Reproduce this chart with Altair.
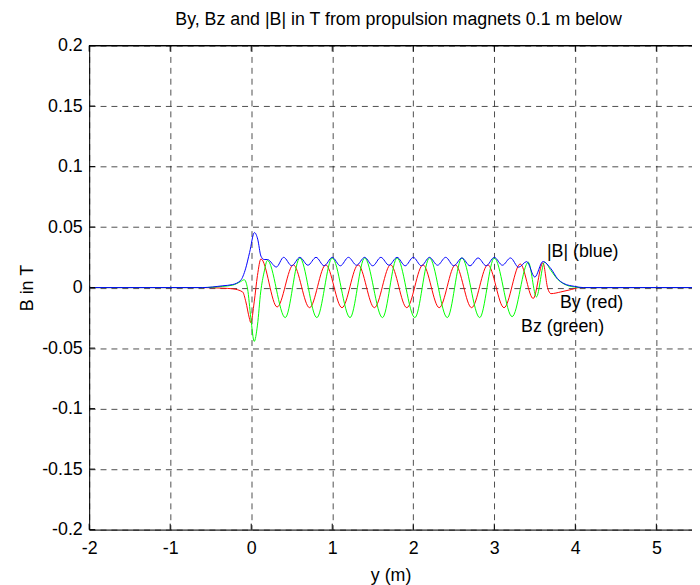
import altair as alt
import pandas as pd

# ---- data ----
blue_x = [-2.0, -0.6, -0.35, -0.23, -0.13, -0.07, -0.02, 0.04, 0.08, 0.12, 0.16, 0.2, 0.31, 0.4, 0.5, 0.6, 0.7,
          0.8, 0.9, 1.0, 1.1, 1.2, 1.3, 1.4, 1.5, 1.6, 1.7, 1.8, 1.9, 2.0, 2.1, 2.2, 2.3, 2.4, 2.5, 2.6, 2.7,
          2.8, 2.9, 3.0, 3.1, 3.2, 3.3, 3.4, 3.5, 3.6, 3.7, 3.78, 3.86, 3.99, 4.1, 5.5]
blue_y = [0.0, 0.0, 0.0015, 0.0025, 0.006, 0.0155, 0.029, 0.0455, 0.040, 0.026, 0.0232, 0.0232, 0.017, 0.025,
          0.018, 0.025, 0.0185, 0.025, 0.018, 0.025, 0.018, 0.025, 0.0185, 0.025, 0.018, 0.025, 0.0185,
          0.025, 0.018, 0.025, 0.018, 0.025, 0.0185, 0.025, 0.018, 0.0245, 0.018, 0.0245, 0.018, 0.025,
          0.0185, 0.0245, 0.0168, 0.0215, 0.0087, 0.0215, 0.0155, 0.0074, 0.0033, 0.001, 0.0, 0.0]

green_x = [-2.0, -0.6, -0.35, -0.23, -0.13, -0.086, -0.045, -0.005, 0.037, 0.077, 0.117, 0.159, 0.2, 0.42,
           0.6, 0.81, 1.0, 1.22, 1.4, 1.62, 1.8, 2.02, 2.2, 2.42, 2.6, 2.82, 3.0, 3.22, 3.42, 3.52, 3.62,
           3.7, 3.78, 3.86, 3.99, 4.1, 5.5]
green_y = [0.0, 0.0, 0.001, 0.002, 0.005, 0.0065, -0.001, -0.025, -0.0445, -0.031, -0.0036, 0.0128, 0.0225,
           -0.0248, 0.0245, -0.0248, 0.0245, -0.0248, 0.0245, -0.0248, 0.0245, -0.0248, 0.0245, -0.0248,
           0.0245, -0.0248, 0.0245, -0.024, 0.021, -0.0077, 0.021, 0.014, 0.007, 0.003, 0.0005, 0.0, 0.0]

red_x = [-2.0, -0.6, -0.35, -0.23, -0.106, -0.066, -0.024, -0.005, 0.037, 0.077, 0.12, 0.32, 0.52, 0.72,
         0.92, 1.12, 1.32, 1.52, 1.72, 1.92, 2.12, 2.32, 2.52, 2.72, 2.92, 3.12, 3.32, 3.48, 3.6, 3.66,
         3.70, 3.82, 3.95, 4.05, 5.5]
red_y = [0.0, 0.0, -0.0005, -0.001, -0.0036, -0.0118, -0.025, -0.029, -0.0118, 0.010, 0.0237, -0.016,
         0.0188, -0.0166, 0.0188, -0.0166, 0.0188, -0.0166, 0.0188, -0.0166, 0.0188, -0.0166, 0.0188,
         -0.0166, 0.0188, -0.0166, 0.0195, -0.009, 0.0205, -0.0008, -0.005, -0.0036, -0.0016, 0.0, 0.0]

x_ticks = [-2, -1, 0, 1, 2, 3, 4, 5]
y_ticks = [-0.2, -0.15, -0.1, -0.05, 0, 0.05, 0.1, 0.15, 0.2]

notes = ["|B| (blue)", "By (red)", "Bz (green)"]
note_x = [3.65, 3.81, 3.33]
note_y = [0.029, -0.0126, -0.0322]

title = "By, Bz and |B| in T from propulsion magnets 0.1 m below"

# ---- layout ----
W, H = 609, 489
FONT = "Liberation Sans"
FS = 18

xscale = alt.Scale(domain=[-2, 5.44], nice=False, zero=False)
yscale = alt.Scale(domain=[-0.2, 0.2], nice=False, zero=False)

xaxis = alt.Axis(values=x_ticks, title="y (m)", labelExpr="'' + datum.value", ticks=False,
                 grid=True, gridDash=[6, 5], gridColor="#000000", gridOpacity=0.7, gridWidth=1,
                 domainColor="#000000", domainWidth=1, labelPadding=10, titlePadding=9,
                 labelFont=FONT, labelFontSize=FS, titleFont=FONT, titleFontSize=FS,
                 titleFontWeight="normal", labelColor="#000000", titleColor="#000000",
                 labelFlush=False, labelOverlap=False)
yaxis = alt.Axis(values=y_ticks, title="B in T", labelExpr="'' + datum.value", ticks=False,
                 grid=True, gridDash=[6, 5], gridColor="#000000", gridOpacity=0.7, gridWidth=1,
                 domainColor="#000000", domainWidth=1, labelPadding=7, titlePadding=5,
                 labelFont=FONT, labelFontSize=FS, titleFont=FONT, titleFontSize=FS,
                 titleFontWeight="normal", labelColor="#000000", titleColor="#000000",
                 labelFlush=False, labelOverlap=False)


def X(field):
    return alt.X(field, type="quantitative", scale=xscale, axis=xaxis)


def Y(field):
    return alt.Y(field, type="quantitative", scale=yscale, axis=yaxis)


red_df = pd.DataFrame({"x": red_x, "y": red_y})
green_df = pd.DataFrame({"x": green_x, "y": green_y})
blue_df = pd.DataFrame({"x": blue_x, "y": blue_y})

red = alt.Chart(red_df).mark_line(color="#ff0000", strokeWidth=1, interpolate="monotone", clip=True).encode(
    x=X("x"), y=Y("y"))
green = alt.Chart(green_df).mark_line(color="#00ff00", strokeWidth=1, interpolate="monotone", clip=True).encode(
    x=X("x"), y=Y("y"))
blue = alt.Chart(blue_df).mark_line(color="#0000ff", strokeWidth=1, interpolate="monotone", clip=True).encode(
    x=X("x"), y=Y("y"))

xt = pd.DataFrame({"x": x_ticks})
yt = pd.DataFrame({"y": y_ticks})

top_border = alt.Chart(xt).mark_rule(color="black", strokeWidth=1).encode(
    x=alt.value(0), x2=alt.value(W), y=alt.value(0))
tick_top = alt.Chart(xt).mark_rule(color="black", strokeWidth=1).encode(
    x=X("x"), y=alt.value(0), y2=alt.value(6))
tick_bot = alt.Chart(xt).mark_rule(color="black", strokeWidth=1).encode(
    x=X("x"), y=alt.value(H - 6), y2=alt.value(H))
tick_left = alt.Chart(yt).mark_rule(color="black", strokeWidth=1).encode(
    y=Y("y"), x=alt.value(0), x2=alt.value(6))

notes_df = pd.DataFrame({"t": notes, "x": note_x, "y": note_y})
labels = alt.Chart(notes_df).mark_text(align="left", baseline="middle", font=FONT, fontSize=FS,
                                       color="black").encode(x=X("x"), y=Y("y"), text="t:N")

title_mark = alt.Chart(pd.DataFrame({"t": [title]})).mark_text(
    align="center", baseline="middle", font=FONT, fontSize=FS, color="black").encode(
    x=alt.value(W / 2 + 8), y=alt.value(-26), text="t:N")

chart = alt.layer(red, green, blue, top_border, tick_top, tick_bot, tick_left, labels, title_mark).properties(
    width=W, height=H,
    autosize=alt.AutoSizeParams(type="none"),
    padding={"left": 82, "top": 35, "right": 0, "bottom": 53},
).configure_view(stroke=None).configure(background="white")

chart.save("out.html", embed_options={"renderer": "svg", "actions": False})
